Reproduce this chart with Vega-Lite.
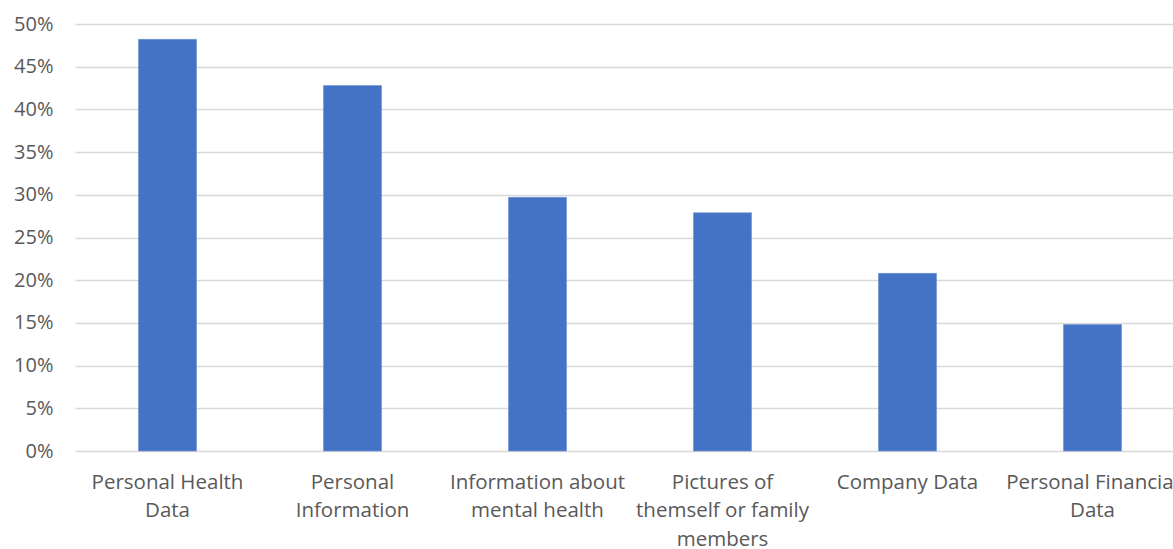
{
  "$schema": "https://vega.github.io/schema/vega-lite/v6.json",
  "width": 1098,
  "height": 427,
  "autosize": {"type": "none"},
  "padding": {"left": 75, "top": 24, "right": 0, "bottom": 98},
  "background": "white",
  "config": {
    "view": {"stroke": null},
    "font": "Open Sans",
    "axis": {"labelColor": "#595959", "labelFont": "Open Sans", "labelFontSize": 20}
  },
  "data": {
    "values": [
      {"category": "Personal Health Data", "share": 0.482},
      {"category": "Personal Information", "share": 0.428},
      {"category": "Information about mental health", "share": 0.297},
      {"category": "Pictures of themself or family members", "share": 0.279},
      {"category": "Company Data", "share": 0.208},
      {"category": "Personal Financial Data", "share": 0.148}
    ]
  },
  "mark": {"type": "bar", "color": "#4472C4", "stroke": "#6f93d6", "strokeWidth": 0.6},
  "encoding": {
    "x": {
      "field": "category",
      "type": "nominal",
      "sort": null,
      "title": null,
      "scale": {"range": [0, 1110], "paddingInner": 0.686, "paddingOuter": 0.343},
      "axis": {
        "domain": false,
        "ticks": false,
        "labelAngle": 0,
        "labelPadding": 21,
        "labelFontSize": 20.5,
        "labelLimit": 0,
        "labelOverlap": false,
        "labelLineHeight": 28.5,
        "labelExpr": "datum.value == 'Personal Health Data' ? ['Personal Health', 'Data'] : datum.value == 'Personal Information' ? ['Personal', 'Information'] : datum.value == 'Information about mental health' ? ['Information about', 'mental health'] : datum.value == 'Pictures of themself or family members' ? ['Pictures of', 'themself or family', 'members'] : datum.value == 'Personal Financial Data' ? ['Personal Financial', 'Data'] : datum.value"
      }
    },
    "y": {
      "field": "share",
      "type": "quantitative",
      "title": null,
      "scale": {"domain": [0, 0.5], "nice": false},
      "axis": {
        "values": [0, 0.05, 0.1, 0.15, 0.2, 0.25, 0.3, 0.35, 0.4, 0.45, 0.5],
        "format": ".0%",
        "domain": false,
        "ticks": false,
        "labelPadding": 22,
        "gridColor": "#d9d9d9",
        "gridWidth": 1.3
      }
    }
  }
}
